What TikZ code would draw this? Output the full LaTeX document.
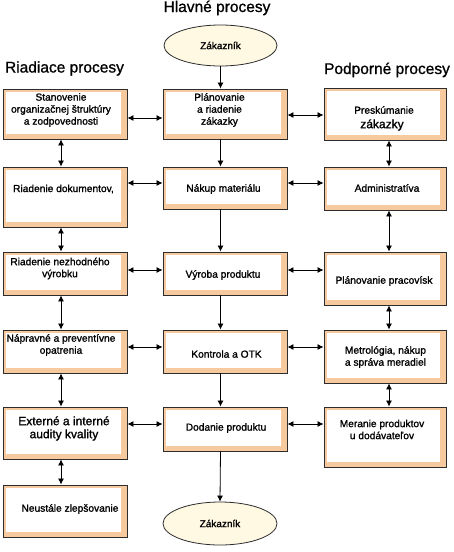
\documentclass[tikz,border=0pt]{standalone}
\usepackage{fontspec}
\setmainfont{Liberation Sans}
\newfontfamily\boxfont[FakeBold=1.3]{Liberation Sans}
\newfontfamily\ttlfont[FakeBold=1.0]{Liberation Sans}
\usetikzlibrary{arrows.meta,shapes.geometric}
\definecolor{peach}{RGB}{246,202,158}
\definecolor{edge}{RGB}{45,45,45}
\definecolor{cream}{RGB}{255,249,228}
\tikzset{
  pbox/.style={draw=edge, line width=0.9pt, fill=peach, inner sep=0pt, minimum width=124pt,
    path picture={\fill[white] ([xshift=2.5pt,yshift=-2.5pt]path picture bounding box.north west) rectangle ([xshift=-6.5pt,yshift=5.5pt]path picture bounding box.south east);}},
  ell/.style={ellipse, draw=edge, line width=0.8pt, fill=cream, inner sep=0pt, font=\boxfont\fontsize{10pt}{12pt}\selectfont},
  txt/.style={align=center, inner sep=0pt, font=\boxfont\fontsize{10.2pt}{12pt}\selectfont},
  bigtxt/.style={align=center, inner sep=0pt, font=\boxfont\fontsize{12pt}{13pt}\selectfont},
  ttl/.style={inner sep=0pt, anchor=base, font=\ttlfont\fontsize{15.5pt}{18pt}\selectfont},
  dbl/.style={{Latex[length=6pt,width=6pt]}-{Latex[length=6pt,width=6pt]}, line width=0.8pt},
  one/.style={-{Latex[length=6pt,width=6pt]}, line width=0.8pt}
}
\begin{document}
\begin{tikzpicture}[x=1pt,y=-1pt]
\useasboundingbox[fill=white] (0,0) rectangle (454,552);
% titles
\node[ttl] (T1) at (217,12) {Hlavné procesy};
\node[ttl] (T2) at (64.5,72.5) {Riadiace procesy};
\node[ttl] (T3) at (387,74) {Podporné procesy};
% ellipses
\node[ell, minimum width=113pt, minimum height=41pt] (Z1) at (220.5,45.5) {Zákazník};
\node[ell, minimum width=114pt, minimum height=43pt] (Z2) at (220,523.5) {Zákazník};
% left column
\node[pbox, minimum height=50pt] (L1) at (65,114) {};
\node[pbox, minimum height=60pt] (L2) at (65,197) {};
\node[pbox, minimum height=43pt] (L3) at (65,273.5) {};
\node[pbox, minimum height=43pt] (L4) at (65,351.5) {};
\node[pbox, minimum height=52pt] (L5) at (65,433) {};
\node[pbox, minimum height=52pt] (L6) at (65,511) {};
% middle column
\node[pbox, minimum height=50pt] (M1) at (225,114) {};
\node[pbox, minimum height=42pt] (M2) at (225,188) {};
\node[pbox, minimum height=43pt] (M3) at (225,273.5) {};
\node[pbox, minimum height=43pt] (M4) at (225,351.5) {};
\node[pbox, minimum height=44pt] (M5) at (225,429) {};
% right column
\node[pbox, minimum width=122pt, minimum height=52pt] (R1) at (385,114) {};
\node[pbox, minimum width=122pt, minimum height=43pt] (R2) at (385,188.5) {};
\node[pbox, minimum width=122pt, minimum height=53pt] (R3) at (385,278.5) {};
\node[pbox, minimum width=122pt, minimum height=53pt] (R4) at (385,356.5) {};
\node[pbox, minimum width=122pt, minimum height=60pt] (R5) at (385,437) {};
% texts
\node[txt] (L1t) at (61,110) {Stanovenie\\organizačnej štruktúry\\a zodpovednosti};
\node[txt] (L2t) at (63.5,189) {Riadenie dokumentov,};
\node[txt] (L3t) at (60,268.5) {Riadenie nezhodného\\výrobku};
\node[txt] (L4t) at (61,345) {Nápravné a preventívne\\opatrenia};
\node[bigtxt] (L5t) at (64,428.5) {Externé a interné\\audity kvality};
\node[txt] (L6t) at (70,509) {Neustále zlepšovanie};
\node[txt] (M1t) at (219.5,110) {Plánovanie\\a riadenie\\zákazky};
\node[txt] (M2t) at (223.5,189) {Nákup materiálu};
\node[txt] (M3t) at (223,275) {Výroba produktu};
\node[txt] (M4t) at (226.5,354) {Kontrola a OTK};
\node[txt] (M5t) at (226,428) {Dodanie produktu};
\node[txt] (R1t) at (384,110) {Preskúmanie};
\node[bigtxt] (R1u) at (382,125) {zákazky};
\node[txt] (R2t) at (387,188) {Administratíva};
\node[txt] (R3t) at (384,281) {Plánovanie pracovísk};
\node[txt] (R4t) at (385.5,357) {Metrológia, nákup\\a správa meradiel};
\node[txt] (R5t) at (382,429.5) {Meranie produktov\\u dodávateľov};
% middle flow
\draw[one] (Z1.south) -- ([xshift=-4.5pt]M1.north);
\draw[one] ([xshift=-4.5pt]M1.south) -- ([xshift=-4.5pt]M2.north);
\draw[one] ([xshift=-4.5pt]M2.south) -- ([xshift=-4.5pt]M3.north);
\draw[one] ([xshift=-4.5pt]M3.south) -- ([xshift=-4.5pt]M4.north);
\draw[one] ([xshift=-4.5pt]M4.south) -- ([xshift=-4.5pt]M5.north);
\draw[one] ([xshift=-4.5pt]M5.south) -- (Z2.north);
% left column vertical
\draw[dbl] ([xshift=-4pt]L1.south) -- ([xshift=-4pt]L2.north);
\draw[dbl] ([xshift=-4pt]L2.south) -- ([xshift=-4pt]L3.north);
\draw[dbl] ([xshift=-4pt]L3.south) -- ([xshift=-4pt]L4.north);
\draw[dbl] ([xshift=-4pt]L4.south) -- ([xshift=-4pt]L5.north);
\draw[dbl] ([xshift=-4pt]L5.south) -- ([xshift=-4pt]L6.north);
% right column vertical
\draw[dbl] ([xshift=4pt]R1.south) -- ([xshift=4pt]R2.north);
\draw[dbl] ([xshift=4pt]R2.south) -- ([xshift=4pt]R3.north);
\draw[dbl] ([xshift=4pt]R3.south) -- ([xshift=4pt]R4.north);
\draw[dbl] ([xshift=4pt]R4.south) -- ([xshift=4pt]R5.north);
% horizontal
\draw[dbl] ([yshift=-4pt]L1.east) -- ([yshift=-4pt]M1.west);
\draw[dbl] ([yshift=-1pt]M1.east) -- ([yshift=-1pt]R1.west);
\draw[dbl] ([yshift=14pt]L2.east) -- ([yshift=5pt]M2.west);
\draw[dbl] ([yshift=5pt]M2.east) -- ([yshift=5.5pt]R2.west);
\draw[dbl] ([yshift=3.5pt]L3.east) -- ([yshift=3.5pt]M3.west);
\draw[dbl] ([yshift=3.5pt]M3.east) -- ([yshift=8.5pt]R3.west);
\draw[dbl] ([yshift=4.5pt]L4.east) -- ([yshift=4.5pt]M4.west);
\draw[dbl] ([yshift=4.5pt]M4.east) -- ([yshift=9.5pt]R4.west);
\draw[dbl] ([yshift=9pt]L5.east) -- ([yshift=5pt]M5.west);
\draw[dbl] ([yshift=5pt]M5.east) -- ([yshift=13pt]R5.west);
\end{tikzpicture}
\end{document}
